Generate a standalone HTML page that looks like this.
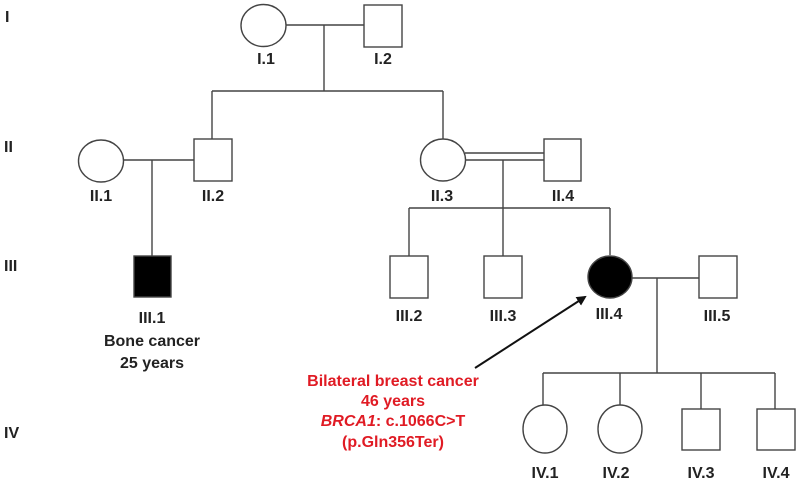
<!DOCTYPE html>
<html><head><style>html,body{margin:0;padding:0;background:#fff}svg{display:block}text{font-family:"Liberation Sans",Arial,sans-serif;font-weight:bold;font-size:16px;fill:#222}</style></head>
<body>
<svg width="799" height="488" viewBox="0 0 799 488" xmlns="http://www.w3.org/2000/svg">
<defs><marker id="ah" markerWidth="10" markerHeight="10" refX="8" refY="5" orient="auto" markerUnits="userSpaceOnUse"><path d="M0,0 L10,5 L0,10 Z" fill="#111"/></marker></defs>
<g stroke="#444" stroke-width="1.4" fill="none">
<ellipse cx="263.5" cy="25.5" rx="22.5" ry="21" fill="#fff"/>
<rect x="364" y="5" width="38" height="42" fill="#fff"/>
<line x1="286" y1="25" x2="364" y2="25"/>
<line x1="324" y1="25" x2="324" y2="91"/>
<line x1="212" y1="91" x2="443" y2="91"/>
<line x1="212" y1="91" x2="212" y2="139"/>
<line x1="443" y1="91" x2="443" y2="139"/>
<ellipse cx="101" cy="161" rx="22.5" ry="21" fill="#fff"/>
<rect x="194" y="139" width="38" height="42" fill="#fff"/>
<line x1="123.5" y1="160" x2="194" y2="160"/>
<line x1="152" y1="160" x2="152" y2="256"/>
<ellipse cx="443" cy="160" rx="22.5" ry="21" fill="#fff"/>
<rect x="544" y="139" width="37" height="42" fill="#fff"/>
<line x1="465" y1="153" x2="544" y2="153"/>
<line x1="465" y1="160" x2="544" y2="160"/>
<line x1="503" y1="160" x2="503" y2="208"/>
<line x1="409" y1="208" x2="610" y2="208"/>
<line x1="409" y1="208" x2="409" y2="256"/>
<line x1="503" y1="208" x2="503" y2="256"/>
<line x1="610" y1="208" x2="610" y2="255"/>
<rect x="134" y="256" width="37" height="41" fill="#000"/>
<rect x="390" y="256" width="38" height="42" fill="#fff"/>
<rect x="484" y="256" width="38" height="42" fill="#fff"/>
<ellipse cx="610" cy="277" rx="22" ry="21" fill="#000"/>
<rect x="699" y="256" width="38" height="42" fill="#fff"/>
<line x1="632" y1="278" x2="699" y2="278"/>
<line x1="657" y1="278" x2="657" y2="373"/>
<line x1="543" y1="373" x2="775" y2="373"/>
<line x1="543" y1="373" x2="543" y2="405"/>
<line x1="620" y1="373" x2="620" y2="405"/>
<line x1="701" y1="373" x2="701" y2="409"/>
<line x1="775" y1="373" x2="775" y2="409"/>
<ellipse cx="545" cy="429" rx="22" ry="24" fill="#fff"/>
<ellipse cx="620" cy="429" rx="22" ry="24" fill="#fff"/>
<rect x="682" y="409" width="38" height="41" fill="#fff"/>
<rect x="757" y="409" width="38" height="41" fill="#fff"/>
</g>
<line x1="475" y1="368" x2="585" y2="297" stroke="#111" stroke-width="2" marker-end="url(#ah)"/>
<g>
<text x="5" y="22">I</text>
<text x="4" y="152">II</text>
<text x="4" y="271">III</text>
<text x="4" y="438">IV</text>
<g text-anchor="middle">
<text x="266" y="64">I.1</text>
<text x="383" y="64">I.2</text>
<text x="101" y="201">II.1</text>
<text x="213" y="201">II.2</text>
<text x="442" y="201">II.3</text>
<text x="563" y="201">II.4</text>
<text x="152" y="323">III.1</text>
<text x="152" y="346">Bone cancer</text>
<text x="152" y="368">25 years</text>
<text x="409" y="321">III.2</text>
<text x="503" y="321">III.3</text>
<text x="609" y="319">III.4</text>
<text x="717" y="321">III.5</text>
<text x="545" y="478">IV.1</text>
<text x="616" y="478">IV.2</text>
<text x="701" y="478">IV.3</text>
<text x="776" y="478">IV.4</text>
<text x="393" y="386" style="fill:#e01b24">Bilateral breast cancer</text>
<text x="393" y="406" style="fill:#e01b24">46 years</text>
<text x="393" y="426" style="fill:#e01b24"><tspan font-style="italic">BRCA1</tspan>: c.1066C&gt;T</text>
<text x="393" y="447" style="fill:#e01b24">(p.Gln356Ter)</text>
</g>
</g>
</svg>
</body></html>
